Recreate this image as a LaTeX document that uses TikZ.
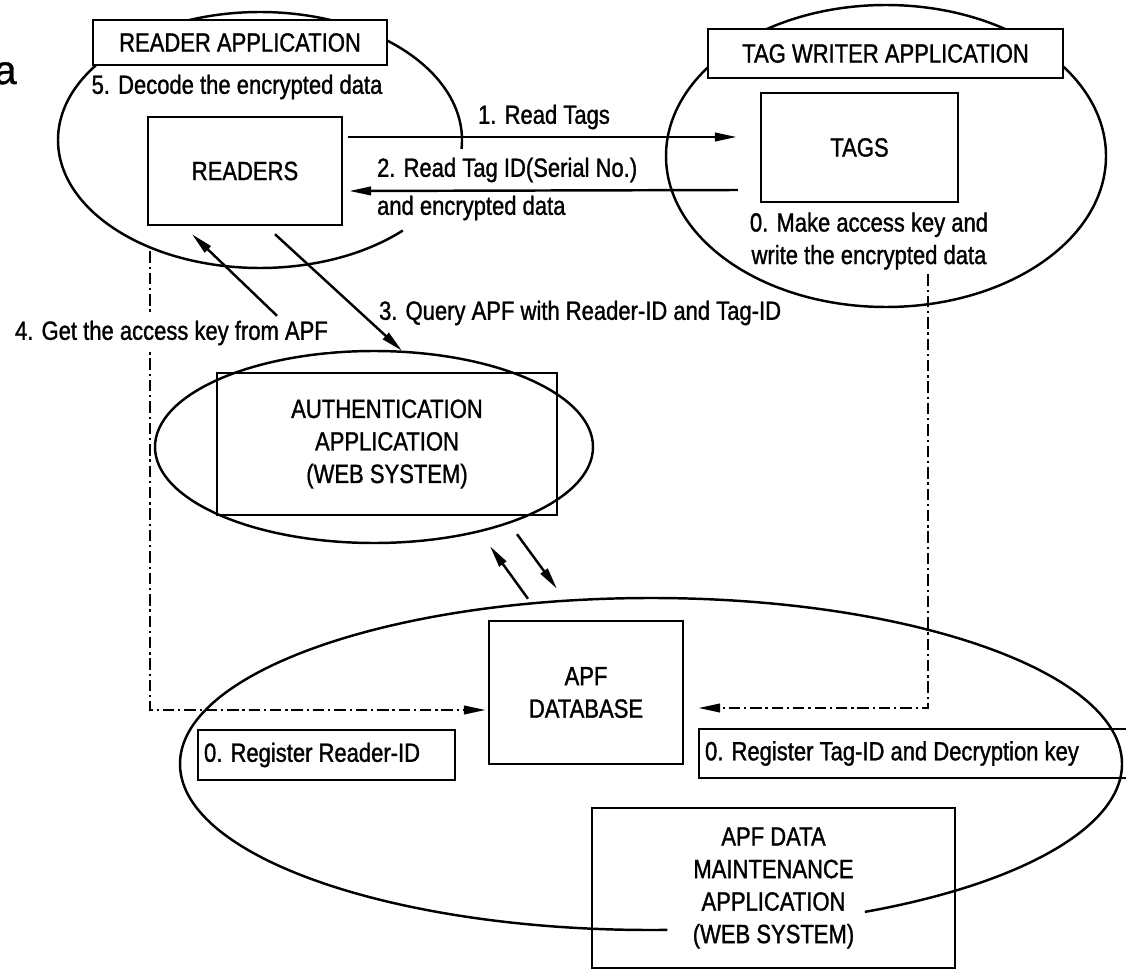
\documentclass[tikz,border=0pt]{standalone}
\usepackage{fontspec}
\setmainfont{Liberation Sans}[FakeStretch=0.835, FakeBold=1.2]
\newfontfamily\figfont{Liberation Sans}[FakeBold=1]
\usetikzlibrary{arrows.meta,calc}
\newcommand{\diafont}{\fontsize{15pt}{18.5pt}\selectfont}

\tikzset{
  box/.style={draw, line width=1.4pt, inner sep=0pt, align=center},
  grp/.style={line width=1.4pt},
  lbl/.style={inner sep=1pt},
  flow/.style={line width=1.4pt, -{Triangle[length=4.4mm,width=1.7mm]}},
  dashflow/.style={flow, dash pattern=on 6.5pt off 2.2pt on 1.3pt off 2.2pt},
}

\begin{document}
\begin{tikzpicture}[x=0.02cm, y=-0.02cm, font=\diafont]
\useasboundingbox (0,0) rectangle (1126,973);

% application groups
\draw[grp] (260,140) ++(45:202 and 128) arc[start angle=45, end angle=364, x radius=202, y radius=128];
\draw[grp] (886,156) ellipse [x radius=220, y radius=151];
\draw[grp] (374,447) ellipse [x radius=219, y radius=96];
\draw[grp] (651,764) ++(88:471 and 166) arc[start angle=88, end angle=423, x radius=471, y radius=166];

\node[font=\figfont\fontsize{23pt}{23pt}\selectfont, anchor=base east, inner sep=0pt] (figa) at (17,84) {a};

% boxes
\node[box, fill=white, minimum width=5.88cm, minimum height=0.9cm] (readapp) at (240,42.5) {READER APPLICATION};
\node[lbl] (decode) at (237,87) {5. Decode the encrypted data};
\node[box, minimum width=3.88cm, minimum height=2.16cm] (readers) at (245,171) {READERS};
\node[box, fill=white, minimum width=7.1cm, minimum height=0.98cm] (tagapp) at (885.5,53.5) {TAG WRITER APPLICATION};
\node[box, minimum width=3.94cm, minimum height=2.18cm] (tags) at (859.5,147.5) {TAGS};
\node[lbl, align=center] (makekey) at (869,241) {0. Make access key and\\write the encrypted data};
\node[box, minimum width=6.8cm, minimum height=2.84cm] (auth) at (387,444) {AUTHENTICATION\\APPLICATION\\(WEB SYSTEM)};
\node[box, minimum width=3.88cm, minimum height=2.86cm] (apf) at (586,692.5) {APF\\DATABASE};
\node[box, text width=4.9cm, align=flush left, inner xsep=0.12cm, minimum height=1cm] (regreader) at (326.5,755) {0. Register Reader-ID};
\node[box, text width=8.56cm, align=flush left, inner xsep=0.12cm, minimum height=0.98cm] (regtag) at (919,753.5) {0. Register Tag-ID and Decryption key};
\node[box, minimum width=7.26cm, minimum height=3.2cm] (maint) at (773.5,888) {APF DATA\\MAINTENANCE\\APPLICATION\\(WEB SYSTEM)};

% labels
\node[lbl] (readtags) at (544,117) {1. Read Tags};
\node[lbl, anchor=west] (readid) at (375,170) {2. Read Tag ID(Serial No.)};
\node[lbl, anchor=west] (encdata) at (375,208) {and encrypted data};
\node[lbl, anchor=west] (query) at (377,313) {3. Query APF with Reader-ID and Tag-ID};

% registration
\draw[dashflow] ($(readers.south)+(-95,25)$) |- ($(apf.west)+(-2,17.5)$);
\draw[dashflow] ($(tags.south)+(68.5,71)$) |- ($(apf.east)+(14,15.5)$);
\node[lbl, fill=white, inner ysep=4pt, anchor=west] (getkey) at (13,333) {4. Get the access key from APF};

% messages
\draw[flow] ($(readers.east)+(5,-34)$) -- ($(tags.west)+(-23,-10.5)$);
\draw[flow] ($(tags.west)+(-22,42.5)$) -- ($(readers.east)+(6,20)$);
\draw[flow] ($(readers.south)+(30,8)$) -- ($(auth.north)+(15,-21)$);
\draw[flow] ($(auth.north)+(-110,-56)$) -- ($(readers.south)+(-53,8)$);
\draw[flow] ($(apf.north)+(-58,-21)$) -- ($(auth.south)+(103,30)$);
\draw[flow] ($(auth.south)+(130,18)$) -- ($(apf.north)+(-29,-31)$);
\end{tikzpicture}
\end{document}
